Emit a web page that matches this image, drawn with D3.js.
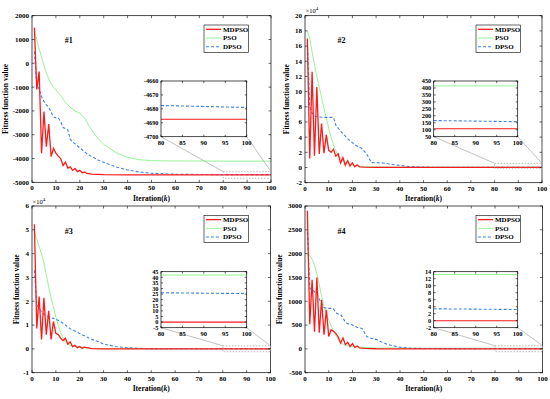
<!DOCTYPE html>
<style>
body { margin: 0; background: #fff; }
svg { font-family: 'Liberation Serif', 'Times New Roman', serif; font-weight: bold; }
</style>
<svg width="550" height="399"></svg>
<script src="https://d3js.org/d3.v7.min.js"></script>
<script>
// iteration / fitness pairs (raw units)
var mdpso1 = [[1,1500],[2,-1100],[3,-350],[4,-3780],[5,-2030],[6,-3500],[7,-2550],[8,-3920],[9,-3570],[10,-3780],[11,-3900],[12,-4000],[13,-4300],[14,-4150],[15,-4400],[16,-4350],[17,-4500],[18,-4420],[19,-4550],[20,-4500],[21,-4600],[22,-4570],[23,-4630],[25,-4660],[30,-4680],[40,-4686],[60,-4687],[80,-4687.5],[100,-4687.5]];
var pso1 = [[1,1300],[2,1000],[3,600],[4,250],[5,-100],[6,-400],[7,-650],[8,-850],[9,-1000],[10,-1120],[12,-1350],[14,-1650],[16,-1850],[18,-2000],[20,-2100],[22,-2300],[24,-2650],[26,-2950],[28,-3200],[30,-3400],[35,-3750],[40,-3950],[45,-4050],[50,-4090],[55,-4100],[80,-4110],[100,-4110]];
var dpso1 = [[1,500],[2,-900],[3,-1100],[4,-1400],[5,-1600],[6,-1750],[7,-1850],[8,-2050],[9,-2250],[10,-2300],[11,-2300],[12,-2450],[13,-2700],[15,-2800],[16,-3200],[17,-3300],[20,-3550],[23,-3800],[25,-3920],[28,-4080],[31,-4200],[35,-4350],[40,-4480],[45,-4570],[50,-4620],[60,-4660],[70,-4673],[80,-4677.6],[90,-4678.3],[100,-4679]];

var mdpso2 = [[1,170000],[2,12000],[3,126000],[4,15500],[5,106000],[6,18000],[7,58000],[8,19000],[9,43000],[10,23000],[11,20000],[12,24000],[13,15000],[14,18000],[15,6000],[16,13000],[17,3000],[18,9000],[19,2000],[20,6000],[21,1000],[22,3500],[23,800],[25,500],[30,200],[40,120],[60,108],[80,107],[100,107]];
var pso2 = [[1,180000],[2,170000],[3,152000],[4,135000],[5,120000],[6,106000],[7,92000],[8,78000],[9,65000],[10,52000],[11,40000],[12,30000],[13,22000],[14,16000],[15,12000],[16,9000],[18,5000],[20,3000],[25,1200],[30,700],[40,450],[60,420],[80,415],[100,415]];
var dpso2 = [[1,165000],[2,80000],[3,72000],[4,68000],[5,67000],[6,66500],[8,66000],[12,66000],[13,56000],[15,48000],[18,38000],[21,30000],[24,25000],[26,18000],[28,6500],[33,6000],[38,3500],[42,2000],[45,1000],[50,500],[60,250],[70,180],[80,166],[90,162],[100,158]];

var mdpso3 = [[1,52300],[2,8600],[3,22000],[4,4000],[5,21500],[6,6000],[7,16000],[8,4000],[9,11500],[10,6500],[11,6000],[12,4500],[13,3500],[14,4500],[15,2000],[16,3000],[17,1000],[18,1500],[19,500],[20,1000],[21,300],[22,700],[25,100],[30,20],[40,2],[80,0],[100,0]];
var pso3 = [[1,49000],[2,46000],[3,43000],[4,40000],[5,36000],[6,31000],[7,26000],[8,21500],[9,17500],[10,13500],[11,10000],[12,7000],[13,4500],[14,3000],[15,2000],[16,1500],[18,1000],[20,600],[25,200],[30,100],[40,50],[60,43],[80,42],[100,42]];
var dpso3 = [[1,33000],[2,19000],[3,17000],[4,15500],[5,14500],[6,14000],[7,13500],[8,13000],[9,12800],[10,12500],[12,11500],[14,10000],[16,8500],[18,7500],[20,6500],[22,5500],[25,4000],[28,3000],[30,2000],[35,1000],[40,500],[45,200],[50,100],[60,40],[70,28],[80,26.2],[90,25.8],[100,25.5]];

var mdpso4 = [[1,2900],[2,520],[3,1450],[4,360],[5,1500],[6,340],[7,1030],[8,300],[9,820],[10,260],[11,400],[12,370],[13,320],[14,250],[15,120],[16,230],[17,90],[18,140],[19,50],[20,110],[21,30],[22,60],[23,20],[25,10],[30,3],[40,0.5],[80,0],[100,0]];
var pso4 = [[1,1980],[2,1960],[3,1880],[4,1760],[5,1580],[6,1350],[7,1100],[8,900],[9,740],[10,600],[11,480],[12,370],[13,280],[14,190],[15,120],[17,80],[20,50],[25,30],[30,20],[40,15],[60,13.5],[80,13.2],[100,13.2]];
var dpso4 = [[1,2450],[2,1270],[3,1240],[4,1200],[5,1150],[6,1050],[7,950],[8,870],[9,850],[11,850],[12,840],[13,760],[14,730],[15,720],[16,650],[17,560],[18,530],[20,500],[22,450],[24,430],[25,350],[26,260],[28,220],[30,200],[32,150],[35,90],[40,35],[45,12],[50,8],[60,5],[80,3.4],[90,3.3],[100,3.2]];

var seriesNames = ["MDPSO", "PSO", "DPSO"];
var xTicks = [0,10,20,30,40,50,60,70,80,90,100];
var insetXTicks = [80,85,90,95,100];

var svg = d3.select("svg");

// per-panel layout
var panels = [
  {tag: "#1", data: [mdpso1, pso1, dpso1], yDom: [-5000, 2000], yTicks: d3.range(-5000, 2001, 1000), scale: 1,
   box: [32, 271, 15.7, 182.3], ylx: 8, inset: [161, 246.7, 81, 136.7], inDom: [-4700, -4660], inTicks: d3.range(-4700, -4659, 10),
   zoomY: [-4830, -4550]},
  {tag: "#2", data: [mdpso2, pso2, dpso2], yDom: [-20000, 200000], yTicks: d3.range(-20000, 200001, 20000), scale: 1e4,
   box: [305, 542, 15.7, 182.7], ylx: 289, inset: [433.7, 517.7, 81, 136.7], inDom: [50, 450], inTicks: d3.range(50, 451, 50),
   zoomY: [-1000, 5500]},
  {tag: "#3", data: [mdpso3, pso3, dpso3], yDom: [-10000, 60000], yTicks: d3.range(-10000, 60001, 10000), scale: 1e4,
   box: [32, 270.5, 206, 372.7], ylx: 19, inset: [161, 246.7, 271.7, 327.7], inDom: [-5, 45], inTicks: d3.range(-5, 46, 5),
   zoomY: [-1200, 1300]},
  {tag: "#4", data: [mdpso4, pso4, dpso4], yDom: [-500, 3000], yTicks: d3.range(-500, 3001, 500), scale: 1,
   box: [305, 542.5, 206, 372.7], ylx: 282, inset: [433.7, 517.7, 271.7, 327.7], inDom: [-2, 14], inTicks: d3.range(-2, 15, 2),
   zoomY: [-60, 66]}
];

var colors = ["#ff1a1a", "#7cf07c", "#3d85e6"];
var widths = [1.3, 0.8, 1.1];
var dashes = [null, null, "3,2"];

// inward ticks on all four sides, MATLAB style
function frame(g, x, y, xt, yt, len) {
  var x0 = x.range()[0], x1 = x.range()[1], y0 = y.range()[0], y1 = y.range()[1];
  xt.forEach(function(t) {
    g.append("line").attr("x1", x(t)).attr("x2", x(t)).attr("y1", y0).attr("y2", y0 - len).attr("stroke", "#000").attr("stroke-width", 0.6);
    g.append("line").attr("x1", x(t)).attr("x2", x(t)).attr("y1", y1).attr("y2", y1 + len).attr("stroke", "#000").attr("stroke-width", 0.6);
  });
  yt.forEach(function(t) {
    g.append("line").attr("x1", x0).attr("x2", x0 + len).attr("y1", y(t)).attr("y2", y(t)).attr("stroke", "#000").attr("stroke-width", 0.6);
    g.append("line").attr("x1", x1).attr("x2", x1 - len).attr("y1", y(t)).attr("y2", y(t)).attr("stroke", "#000").attr("stroke-width", 0.6);
  });
  g.append("rect").attr("x", x0).attr("y", y1).attr("width", x1 - x0).attr("height", y0 - y1)
    .attr("fill", "none").attr("stroke", "#000").attr("stroke-width", 0.7);
}

panels.forEach(function(p, pi) {
  var g = svg.append("g");
  var x = d3.scaleLinear().domain([0, 100]).range([p.box[0], p.box[1]]);
  var y = d3.scaleLinear().domain(p.yDom).range([p.box[3], p.box[2]]);
  var clipId = "clip" + pi;
  svg.append("clipPath").attr("id", clipId).append("rect")
    .attr("x", p.box[0]).attr("y", p.box[2]).attr("width", p.box[1] - p.box[0]).attr("height", p.box[3] - p.box[2]);

  var line = d3.line().x(function(d) { return x(d[0]); }).y(function(d) { return y(d[1]); });

  // draw DPSO, PSO first, MDPSO on top? keep order green, blue, red
  [1, 2, 0].forEach(function(k) {
    g.append("path").datum(p.data[k])
      .attr("clip-path", "url(#" + clipId + ")")
      .attr("d", line).attr("fill", "none")
      .attr("stroke", colors[k]).attr("stroke-width", widths[k])
      .attr("stroke-dasharray", dashes[k]);
  });

  frame(g, x, y, xTicks, p.yTicks, 2.5);

  g.selectAll(".xt").data(xTicks).enter().append("text")
    .attr("x", function(d) { return x(d); }).attr("y", p.box[3] + 8)
    .attr("text-anchor", "middle").attr("font-size", 7).text(function(d) { return d; });
  g.selectAll(".yt").data(p.yTicks).enter().append("text")
    .attr("x", p.box[0] - 3).attr("y", function(d) { return y(d) + 2.4; })
    .attr("text-anchor", "end").attr("font-size", 7).text(function(d) { return d / p.scale; });

  if (p.scale !== 1) {
    var ex = g.append("text").attr("x", p.box[0] + 0.5).attr("y", p.box[2] - 2.5).attr("font-size", 6.5).attr("font-weight", "normal");
    ex.append("tspan").text("\u00d710");
    ex.append("tspan").attr("dy", -3).attr("font-size", 5).text("4");
  }

  // axis labels
  var xl = g.append("text").attr("x", (p.box[0] + p.box[1]) / 2).attr("y", p.box[3] + 18.5)
    .attr("text-anchor", "middle").attr("font-size", 7.5);
  xl.append("tspan").text("Iteration(");
  xl.append("tspan").attr("font-style", "italic").text("k");
  xl.append("tspan").text(")");
  g.append("text").attr("transform", "translate(" + p.ylx + "," + ((p.box[2] + p.box[3]) / 2) + ") rotate(-90)")
    .attr("text-anchor", "middle").attr("font-size", 7.5).text("Fitness function value");

  g.append("text").attr("x", x(13.7)).attr("y", p.box[2] + 27.5).attr("font-size", 8).text(p.tag);

  // zoomed source region and connectors
  var zx0 = x(80), zx1 = x(100), zy0 = y(p.zoomY[1]), zy1 = y(p.zoomY[0]);
  g.append("rect").attr("x", zx0).attr("y", zy0).attr("width", zx1 - zx0).attr("height", zy1 - zy0)
    .attr("fill", "none").attr("stroke", "#aaa").attr("stroke-width", 0.8).attr("stroke-dasharray", "1.5,1.5");
  g.append("line").attr("x1", p.inset[0]).attr("y1", p.inset[3]).attr("x2", zx0).attr("y2", zy0)
    .attr("stroke", "#999").attr("stroke-width", 0.6);
  g.append("line").attr("x1", p.inset[1]).attr("y1", p.inset[3]).attr("x2", zx1).attr("y2", zy0)
    .attr("stroke", "#999").attr("stroke-width", 0.6);

  // inset
  var ix = d3.scaleLinear().domain([80, 100]).range([p.inset[0], p.inset[1]]);
  var iy = d3.scaleLinear().domain(p.inDom).range([p.inset[3], p.inset[2]]);
  g.append("rect").attr("x", p.inset[0]).attr("y", p.inset[2]).attr("width", p.inset[1] - p.inset[0])
    .attr("height", p.inset[3] - p.inset[2]).attr("fill", "#fff");
  var iclip = "iclip" + pi;
  svg.append("clipPath").attr("id", iclip).append("rect")
    .attr("x", p.inset[0]).attr("y", p.inset[2]).attr("width", p.inset[1] - p.inset[0]).attr("height", p.inset[3] - p.inset[2]);
  var iline = d3.line().x(function(d) { return ix(d[0]); }).y(function(d) { return iy(d[1]); });
  [1, 2, 0].forEach(function(k) {
    g.append("path").datum(p.data[k].filter(function(d) { return d[0] >= 80; }))
      .attr("clip-path", "url(#" + iclip + ")")
      .attr("d", iline).attr("fill", "none")
      .attr("stroke", colors[k]).attr("stroke-width", k === 0 ? 1.1 : widths[k])
      .attr("stroke-dasharray", dashes[k]);
  });
  frame(g, ix, iy, insetXTicks, p.inTicks, 2);
  g.selectAll(".ixt").data(insetXTicks).enter().append("text")
    .attr("x", function(d) { return ix(d); }).attr("y", p.inset[3] + 8)
    .attr("text-anchor", "middle").attr("font-size", 6.5).text(function(d) { return d; });
  g.selectAll(".iyt").data(p.inTicks).enter().append("text")
    .attr("x", p.inset[0] - 2.5).attr("y", function(d) { return iy(d) + 2.2; })
    .attr("text-anchor", "end").attr("font-size", 6.3).text(function(d) { return d; });

  // legend
  var lx = p.box[0] + (pi % 2 ? 171 : 172), ly = p.box[2] + 9.3;
  var lg = g.append("g").attr("transform", "translate(" + lx + "," + ly + ")");
  lg.append("rect").attr("x", 0).attr("y", 0).attr("width", 44.5).attr("height", 27.3)
    .attr("fill", "#fff").attr("stroke", "#000").attr("stroke-width", 0.6);
  seriesNames.forEach(function(n, k) {
    var yy = 4.3 + k * 8.7;
    lg.append("line").attr("x1", 2).attr("x2", 17).attr("y1", yy).attr("y2", yy)
      .attr("stroke", colors[k]).attr("stroke-width", widths[k]).attr("stroke-dasharray", dashes[k]);
    lg.append("text").attr("x", 19).attr("y", yy + 2.4).attr("font-size", 7).text(n);
  });
});
</script>
